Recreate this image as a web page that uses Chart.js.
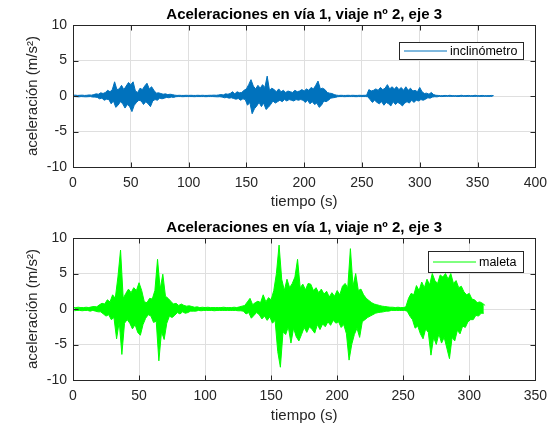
<!DOCTYPE html>
<html>
<head>
<meta charset="utf-8">
<script src="https://cdn.jsdelivr.net/npm/chart.js@4/dist/chart.umd.min.js"></script>
<style>
  body { margin: 0; background: #fff; }
  .panel { position: absolute; left: 0; width: 555px; height: 214px; }
</style>
</head>
<body>
<div class="panel" style="top:0"><canvas id="topChart" width="555" height="214"></canvas></div>
<div class="panel" style="top:214px"><canvas id="bottomChart" width="555" height="214"></canvas></div>
<script>
// shared labels
const chartTitle = "Aceleraciones en vía 1, viaje nº 2, eje 3";
const xTitle = "tiempo (s)";
const yTitle = "aceleración (m/s²)";
const yTicks = [-10, -5, 0, 5, 10];
const topXTicks = [0, 50, 100, 150, 200, 250, 300, 350, 400];
const bottomXTicks = [0, 50, 100, 150, 200, 250, 300, 350];

// inclinómetro, one reading per second starting at t = 0
const inclinoLabel = "inclinómetro";
const inclinoStart = 0;
const inclinoStep = 1;
const inclinoValues = [
  0.1,-0.08,0.12,-0.1,0.08,-0.12,0.1,-0.08,0.12,-0.1,
  0.08,-0.12,0.1,-0.1,0.15,-0.08,0.12,-0.15,0.2,-0.15,
  0.3,-0.2,0.25,-0.4,0.45,-0.3,0.35,-0.6,0.5,-0.45,
  0.8,-0.5,0.6,-1.1,0.9,-0.7,2.0,-1.6,0.9,-1.3,
  1.0,-0.8,1.5,-1.1,0.9,-1.7,1.4,-1.2,1.9,-1.5,
  1.6,-2.2,2.0,-1.3,0.7,-0.9,0.5,-0.6,1.1,-0.7,
  0.9,-1.2,1.4,-0.8,1.8,-1.1,1.0,-1.5,1.3,-0.7,
  0.8,-0.5,0.4,-0.6,0.45,-0.3,0.35,-0.4,0.25,-0.3,
  0.3,-0.2,0.2,-0.25,0.25,-0.15,0.2,-0.2,0.12,-0.1,
  0.08,-0.08,0.1,-0.08,0.08,-0.1,0.08,-0.08,0.1,-0.08,
  0.08,-0.08,0.1,-0.08,0.08,-0.1,0.08,-0.08,0.1,-0.08,
  0.08,-0.08,0.1,-0.08,0.08,-0.1,0.08,-0.08,0.1,-0.08,
  0.1,-0.08,0.12,-0.1,0.1,-0.12,0.15,-0.1,0.2,-0.15,
  0.15,-0.25,0.3,-0.2,0.25,-0.3,0.35,-0.25,0.6,-0.35,
  0.3,-0.45,0.6,-0.35,0.45,-0.6,0.5,-0.4,0.8,-0.5,
  1.0,-1.3,1.6,-0.9,2.3,-2.5,1.4,-1.8,1.0,-1.4,
  1.5,-0.9,1.1,-1.5,1.6,-1.0,1.2,-1.9,2.8,-1.6,
  0.8,-1.2,1.1,-0.7,0.9,-1.0,0.6,-0.8,1.0,-0.6,
  0.6,-0.8,0.8,-0.5,0.5,-0.7,0.7,-0.5,0.6,-0.6,
  0.5,-0.7,0.8,-0.5,0.6,-0.6,0.7,-0.5,0.9,-0.6,
  0.7,-0.9,1.0,-0.6,0.8,-1.1,1.2,-0.8,1.0,-1.2,
  1.5,-1.0,2.1,-1.6,1.0,-1.3,1.1,-0.7,0.9,-0.8,
  0.5,-0.6,0.4,-0.3,0.35,-0.25,0.2,-0.2,0.12,-0.1,
  0.08,-0.08,0.1,-0.08,0.08,-0.1,0.08,-0.08,0.1,-0.08,
  0.08,-0.08,0.1,-0.08,0.08,-0.1,0.08,-0.08,0.1,-0.08,
  0.08,-0.08,0.1,-0.08,0.1,-0.1,0.9,-0.5,0.7,-0.9,
  0.8,-0.6,1.0,-0.9,0.8,-1.1,1.2,-0.8,0.9,-1.3,
  1.1,-0.9,1.6,-1.1,1.0,-1.4,1.3,-0.8,1.0,-1.2,
  1.3,-0.9,0.9,-1.1,1.2,-1.4,0.8,-1.0,1.3,-0.8,
  0.8,-1.0,1.1,-0.6,0.7,-0.9,0.8,-0.6,0.6,-0.7,
  1.2,-0.5,0.6,-0.6,0.35,-0.45,0.4,-0.25,0.25,-0.3,
  0.5,-0.15,0.2,-0.1,0.1,-0.12,0.08,-0.05,0.05,-0.08,
  0.05,-0.05,0.08,-0.05,0.05,-0.05,0.1,-0.05,0.05,-0.05,
  0.05,-0.05,0.05,-0.08,0.05,-0.05,0.1,-0.05,0.05,-0.05,
  0.05,-0.05,0.08,-0.05,0.05,-0.05,0.05,-0.05,0.1,-0.05,
  0.05,-0.05,0.05,-0.05,0.08,-0.05,0.05,-0.05,0.05,-0.05,
  0.05,-0.05,0.08,-0.05,0.05
];

// maleta, one reading per second starting at t = 0
const maletaLabel = "maleta";
const maletaStart = 0;
const maletaStep = 1;
const maletaValues = [
  0.2,-0.25,0.2,-0.2,0.25,-0.2,0.2,-0.25,0.2,-0.2,
  0.25,-0.2,0.2,-0.3,0.3,-0.2,0.35,-0.3,0.3,-0.4,
  0.6,-0.4,0.8,-0.7,0.7,-1.0,1.3,-0.8,1.0,-1.5,
  2.0,-1.2,1.5,-4.2,4.5,-1.8,8.3,-6.4,1.5,-2.0,
  2.2,-1.5,2.8,-2.0,2.3,-2.8,3.0,-2.2,2.6,-3.3,
  3.7,-3.7,2.6,-2.2,1.0,-1.3,0.9,-0.8,1.5,-1.0,
  1.4,-1.9,2.6,-1.7,7.0,-7.3,2.8,-3.2,4.9,-4.3,
  1.8,-2.0,1.5,-1.0,1.1,-1.2,0.7,-0.9,0.8,-0.5,
  0.5,-0.7,0.7,-0.4,0.5,-0.6,0.4,-0.5,0.45,-0.3,
  0.35,-0.3,0.25,-0.3,0.3,-0.2,0.2,-0.25,0.25,-0.2,
  0.2,-0.2,0.25,-0.2,0.2,-0.2,0.2,-0.25,0.2,-0.2,
  0.2,-0.2,0.2,-0.2,0.25,-0.2,0.2,-0.2,0.2,-0.2,
  0.2,-0.2,0.25,-0.2,0.2,-0.25,0.3,-0.25,0.4,-0.3,
  0.5,-0.7,1.0,-0.5,1.5,-1.3,0.6,-0.9,0.9,-0.5,
  1.1,-0.8,0.9,-1.4,2.0,-1.0,1.0,-1.6,1.6,-1.1,
  1.3,-2.0,2.6,-1.6,5.0,-6.0,9.0,-8.2,4.2,-3.2,
  2.6,-3.6,4.2,-2.5,3.0,-4.8,3.6,-2.7,4.5,-3.9,
  7.0,-4.5,3.0,-3.6,3.5,-2.6,2.7,-3.3,3.6,-2.5,
  3.5,-2.9,2.6,-3.4,3.0,-2.2,2.3,-2.9,2.8,-2.1,
  2.1,-2.5,2.5,-1.8,1.7,-2.3,2.3,-1.6,1.8,-2.0,
  2.6,-1.8,2.0,-2.6,3.2,-2.2,3.6,-3.5,3.0,-7.2,
  8.5,-5.0,3.2,-3.6,5.0,-2.7,2.6,-4.0,2.8,-1.8,
  2.0,-1.5,1.5,-1.2,1.2,-1.0,0.9,-0.8,0.7,-0.6,
  0.6,-0.5,0.5,-0.45,0.4,-0.4,0.35,-0.3,0.3,-0.3,
  0.25,-0.2,0.25,-0.2,0.2,-0.2,0.25,-0.2,0.2,-0.2,
  0.2,-0.2,0.3,-0.3,1.5,-1.0,2.2,-1.5,2.0,-2.7,
  3.3,-2.4,2.6,-3.5,3.8,-4.2,3.0,-2.8,4.2,-3.3,
  3.4,-6.5,5.0,-4.0,4.0,-5.0,3.6,-3.5,4.8,-4.8,
  4.5,-4.0,5.0,-5.5,4.2,-7.0,5.0,-4.0,3.6,-4.5,
  4.0,-3.0,3.0,-3.5,3.2,-2.4,2.4,-2.6,2.0,-1.8,
  2.2,-1.5,1.4,-1.5,1.3,-0.9,0.9,-1.0,1.0,-0.6,
  0.8,-0.6,0.5
];

const FONT = '"Liberation Sans", Arial, sans-serif';
const axisColor = '#262626';

// the trace swings every sample, so its positive and negative swings
// are drawn as two lines with the band between them filled
function toPoints(values, start, step, keep) {
  const pts = [];
  values.forEach((v, i) => { if (keep(v)) pts.push({ x: start + i * step, y: v }); });
  return pts;
}

// draws the matlab-like box, inward ticks, title and legend
const matlabAxes = {
  id: 'matlabAxes',
  afterDraw(chart, args, o) {
    const { ctx, chartArea: a, scales } = chart;
    const L = Math.round(a.left) + 0.5, R = Math.round(a.right) + 0.5;
    const T = Math.round(a.top) + 0.5, B = Math.round(a.bottom) + 0.5;
    ctx.save();
    ctx.strokeStyle = axisColor;
    ctx.lineWidth = 1;
    ctx.beginPath();
    scales.x.ticks.forEach(t => {
      const px = Math.round(scales.x.getPixelForValue(t.value)) + 0.5;
      ctx.moveTo(px, B); ctx.lineTo(px, B - 5);
      ctx.moveTo(px, T); ctx.lineTo(px, T + 5);
    });
    scales.y.ticks.forEach(t => {
      const py = Math.round(scales.y.getPixelForValue(t.value)) + 0.5;
      ctx.moveTo(L, py); ctx.lineTo(L + 5, py);
      ctx.moveTo(R, py); ctx.lineTo(R - 5, py);
    });
    ctx.stroke();
    ctx.strokeRect(L, T, R - L, B - T);

    ctx.fillStyle = '#000';
    ctx.font = 'bold 15px ' + FONT;
    ctx.textAlign = 'center';
    ctx.textBaseline = 'middle';
    ctx.fillText(o.title, (a.left + a.right) / 2, o.titleY);

    const g = o.legend;
    const ds = chart.data.datasets[0];
    ctx.fillStyle = '#fff';
    ctx.fillRect(g.x, g.y, g.w, g.h);
    ctx.strokeRect(g.x + 0.5, g.y + 0.5, g.w, g.h);
    ctx.strokeStyle = ds.borderColor;
    ctx.beginPath();
    ctx.moveTo(g.x + 5, g.y + g.h / 2 + 0.5);
    ctx.lineTo(g.x + 48, g.y + g.h / 2 + 0.5);
    ctx.stroke();
    ctx.fillStyle = '#000';
    ctx.font = '12.5px ' + FONT;
    ctx.textAlign = 'left';
    ctx.fillText(ds.label, g.x + 51, g.y + g.h / 2 + 1);
    ctx.restore();
  }
};

function makeChart(id, cfg) {
  const line = {
    borderColor: cfg.color,
    backgroundColor: cfg.color,
    borderWidth: 1,
    pointRadius: 0,
    tension: 0
  };
  return new Chart(document.getElementById(id), {
    type: 'line',
    data: {
      datasets: [
        { ...line, label: cfg.label, fill: false,
          data: toPoints(cfg.values, cfg.start, cfg.step, v => v >= 0) },
        { ...line, label: cfg.label, fill: '-1',
          data: toPoints(cfg.values, cfg.start, cfg.step, v => v < 0) }
      ]
    },
    options: {
      responsive: false,
      animation: false,
      devicePixelRatio: 1,
      layout: { padding: { left: 0, right: 19, top: cfg.top, bottom: 0 } },
      plugins: {
        legend: { display: false },
        tooltip: { enabled: false },
        filler: { propagate: false },
        matlabAxes: { title: chartTitle, titleY: cfg.titleY, legend: cfg.legend }
      },
      scales: {
        x: {
          type: 'linear',
          min: cfg.xTicks[0],
          max: cfg.xTicks[cfg.xTicks.length - 1],
          afterBuildTicks: s => { s.ticks = cfg.xTicks.map(v => ({ value: v })); },
          afterFit: s => { s.height = 214 - cfg.bottom; },
          grid: { color: '#dfdfdf', lineWidth: 1, drawTicks: false },
          border: { display: false },
          ticks: { color: axisColor, font: { family: FONT, size: 14 }, padding: 8, maxRotation: 0 },
          title: { display: true, text: xTitle, color: axisColor, font: { family: FONT, size: 15 }, padding: { top: 0, bottom: 3 } }
        },
        y: {
          min: -10,
          max: 10,
          afterBuildTicks: s => { s.ticks = yTicks.map(v => ({ value: v })); },
          afterFit: s => { s.width = 73; },
          grid: { color: '#dfdfdf', lineWidth: 1, drawTicks: false },
          border: { display: false },
          ticks: { color: axisColor, font: { family: FONT, size: 14 }, padding: 6 },
          title: { display: true, text: yTitle, color: axisColor, font: { family: FONT, size: 15 }, padding: { top: 24, bottom: 0 } }
        }
      }
    },
    plugins: [matlabAxes]
  });
}

makeChart('topChart', {
  label: inclinoLabel, values: inclinoValues, start: inclinoStart, step: inclinoStep,
  color: '#0072BD', xTicks: topXTicks, top: 25, bottom: 167, titleY: 15,
  legend: { x: 399, y: 42, w: 124, h: 17 }
});

makeChart('bottomChart', {
  label: maletaLabel, values: maletaValues, start: maletaStart, step: maletaStep,
  color: '#00FF00', xTicks: bottomXTicks, top: 24, bottom: 166, titleY: 14,
  legend: { x: 428, y: 37, w: 95, h: 21 }
});
</script>
</body>
</html>
